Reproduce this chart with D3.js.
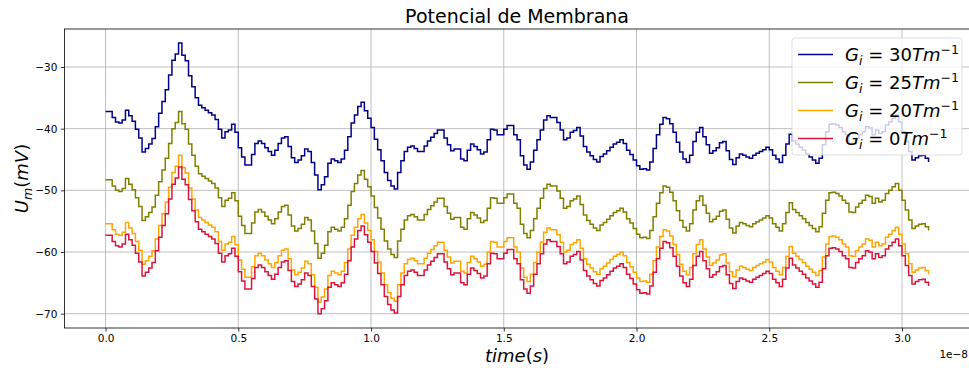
<!DOCTYPE html>
<html>
<head>
<meta charset="utf-8">
<script src="https://cdn.jsdelivr.net/npm/d3@7"></script>
<style>
  body { margin: 0; background: #fff; }
  svg { display: block; }
  text { font-family: "DejaVu Sans", sans-serif; fill: #000; }
</style>
</head>
<body>
<svg id="chart" width="969" height="368"></svg>
<script>
// Sampling interval of the recorded membrane-potential traces (seconds)
const T_STEP = 1.25e-10;

// Membrane potential (mV) for each gradient value
const gi30 = [
-37.2,-37.2,-38.2,-38.9,-39.1,-38.6,-37.0,-37.9,-38.8,-40.1,
-41.5,-43.8,-43.2,-42.5,-41.6,-39.7,-37.5,-35.6,-33.7,-31.3,
-28.9,-27.9,-26.1,-28.1,-29.0,-31.4,-33.2,-35.0,-36.2,-36.6,
-37.0,-37.4,-37.8,-38.5,-40.1,-41.5,-40.5,-40.2,-39.3,-40.6,
-43.1,-44.6,-45.9,-45.9,-44.2,-42.4,-42.0,-42.4,-43.1,-43.7,
-44.3,-43.5,-42.4,-41.5,-41.3,-42.9,-44.7,-45.5,-45.1,-44.4,
-43.3,-43.7,-45.5,-47.5,-49.9,-49.1,-47.8,-45.6,-44.9,-45.2,
-45.5,-44.9,-43.5,-41.3,-39.1,-37.8,-36.4,-35.7,-37.1,-38.3,
-39.8,-41.7,-43.4,-45.2,-47.1,-48.4,-49.3,-49.8,-47.1,-45.2,
-43.7,-43.0,-42.8,-43.2,-43.7,-43.7,-42.8,-42.0,-41.4,-40.8,
-40.2,-40.2,-41.5,-42.6,-43.6,-43.3,-43.3,-44.9,-45.2,-43.5,
-42.5,-42.9,-43.4,-44.1,-43.8,-41.8,-40.1,-40.2,-41.0,-41.0,
-40.1,-39.5,-39.5,-41.0,-41.8,-44.4,-45.9,-46.6,-45.4,-43.5,
-41.8,-40.2,-38.6,-37.9,-38.2,-38.2,-39.0,-40.2,-41.8,-41.5,
-40.6,-40.3,-39.8,-41.2,-42.9,-43.8,-44.4,-45.0,-45.4,-44.5,
-44.1,-43.6,-43.0,-42.5,-42.2,-41.8,-42.4,-43.5,-44.2,-45.1,
-46.0,-46.6,-46.5,-46.7,-45.4,-43.2,-41.0,-39.3,-38.2,-38.4,
-39.2,-40.6,-42.2,-43.8,-44.9,-45.5,-44.3,-42.1,-40.6,-39.8,
-41.3,-42.6,-44.0,-43.6,-43.1,-42.3,-42.1,-43.6,-45.0,-45.8,
-44.7,-44.1,-44.3,-44.6,-44.8,-44.3,-44.0,-43.7,-43.4,-43.0,
-43.4,-44.3,-44.9,-45.5,-44.3,-42.5,-40.9,-42.0,-42.5,-43.0,
-43.5,-44.1,-44.6,-45.1,-45.6,-44.8,-42.6,-40.5,-39.3,-39.2,
-39.4,-39.8,-40.5,-41.0,-42.4,-42.5,-41.6,-41.0,-40.5,-39.7,
-39.9,-41.0,-40.2,-40.8,-40.5,-39.4,-38.9,-38.3,-37.8,-38.9,
-40.5,-42.1,-43.7,-45.1,-44.7,-44.4,-44.3,-44.8,-45.4
];
const gi25 = [
-48.3,-48.3,-49.3,-50.0,-50.2,-49.7,-48.1,-49.0,-49.9,-51.2,
-52.6,-54.9,-54.3,-53.6,-52.7,-50.8,-48.6,-46.7,-44.8,-42.4,
-40.0,-39.0,-37.2,-39.2,-40.1,-42.5,-44.3,-46.1,-47.3,-47.7,
-48.1,-48.5,-48.9,-49.6,-51.2,-52.6,-51.6,-51.3,-50.4,-51.7,
-54.2,-55.7,-57.0,-57.0,-55.3,-53.5,-53.1,-53.5,-54.2,-54.8,
-55.4,-54.6,-53.5,-52.6,-52.4,-54.0,-55.8,-56.6,-56.2,-55.5,
-54.4,-54.8,-56.6,-58.6,-61.0,-60.2,-58.9,-56.7,-56.0,-56.3,
-56.6,-56.0,-54.6,-52.4,-50.2,-48.9,-47.5,-46.8,-48.2,-49.4,
-50.9,-52.8,-54.5,-56.3,-58.2,-59.5,-60.4,-60.9,-58.2,-56.3,
-54.8,-54.1,-53.9,-54.3,-54.8,-54.8,-53.9,-53.1,-52.5,-51.9,
-51.3,-51.3,-52.6,-53.7,-54.7,-54.4,-54.4,-56.0,-56.3,-54.6,
-53.6,-54.0,-54.5,-55.2,-54.9,-52.9,-51.2,-51.3,-52.1,-52.1,
-51.2,-50.6,-50.6,-52.1,-52.9,-55.5,-57.0,-57.7,-56.5,-54.6,
-52.9,-51.3,-49.7,-49.0,-49.3,-49.3,-50.1,-51.3,-52.9,-52.6,
-51.7,-51.4,-50.9,-52.3,-54.0,-54.9,-55.5,-56.1,-56.5,-55.6,
-55.2,-54.7,-54.1,-53.6,-53.3,-52.9,-53.5,-54.6,-55.3,-56.2,
-57.1,-57.7,-57.6,-57.8,-56.5,-54.3,-52.1,-50.4,-49.3,-49.5,
-50.3,-51.7,-53.3,-54.9,-56.0,-56.6,-55.4,-53.2,-51.7,-50.9,
-52.4,-53.7,-55.1,-54.7,-54.2,-53.4,-53.2,-54.7,-56.1,-56.9,
-55.8,-55.2,-55.4,-55.7,-55.9,-55.4,-55.1,-54.8,-54.5,-54.1,
-54.5,-55.4,-56.0,-56.6,-55.4,-53.6,-52.0,-53.1,-53.6,-54.1,
-54.6,-55.2,-55.7,-56.2,-56.7,-55.9,-53.7,-51.6,-50.4,-50.3,
-50.5,-50.9,-51.6,-52.1,-53.5,-53.6,-52.7,-52.1,-51.6,-50.8,
-51.0,-52.1,-51.3,-51.9,-51.6,-50.5,-50.0,-49.4,-48.9,-50.0,
-51.6,-53.2,-54.8,-56.2,-55.8,-55.5,-55.4,-55.9,-56.5
];
const gi20 = [
-55.4,-55.4,-56.4,-57.1,-57.3,-56.8,-55.2,-56.1,-57.0,-58.3,
-59.7,-62.0,-61.4,-60.7,-59.8,-57.9,-55.7,-53.8,-51.9,-49.5,
-47.1,-46.1,-44.3,-46.3,-47.2,-49.6,-51.4,-53.2,-54.4,-54.8,
-55.2,-55.6,-56.0,-56.7,-58.3,-59.7,-58.7,-58.4,-57.5,-58.8,
-61.3,-62.8,-64.1,-64.1,-62.4,-60.6,-60.2,-60.6,-61.3,-61.9,
-62.5,-61.7,-60.6,-59.7,-59.5,-61.1,-62.9,-63.7,-63.3,-62.6,
-61.5,-61.9,-63.7,-65.7,-68.1,-67.3,-66.0,-63.8,-63.1,-63.4,
-63.7,-63.1,-61.7,-59.5,-57.3,-56.0,-54.6,-53.9,-55.3,-56.5,
-58.0,-59.9,-61.6,-63.4,-65.3,-66.6,-67.5,-68.0,-65.3,-63.4,
-61.9,-61.2,-61.0,-61.4,-61.9,-61.9,-61.0,-60.2,-59.6,-59.0,
-58.4,-58.4,-59.7,-60.8,-61.8,-61.5,-61.5,-63.1,-63.4,-61.7,
-60.7,-61.1,-61.6,-62.3,-62.0,-60.0,-58.3,-58.4,-59.2,-59.2,
-58.3,-57.7,-57.7,-59.2,-60.0,-62.6,-64.1,-64.8,-63.6,-61.7,
-60.0,-58.4,-56.8,-56.1,-56.4,-56.4,-57.2,-58.4,-60.0,-59.7,
-58.8,-58.5,-58.0,-59.4,-61.1,-62.0,-62.6,-63.2,-63.6,-62.7,
-62.3,-61.8,-61.2,-60.7,-60.4,-60.0,-60.6,-61.7,-62.4,-63.3,
-64.2,-64.8,-64.7,-64.9,-63.6,-61.4,-59.2,-57.5,-56.4,-56.6,
-57.4,-58.8,-60.4,-62.0,-63.1,-63.7,-62.5,-60.3,-58.8,-58.0,
-59.5,-60.8,-62.2,-61.8,-61.3,-60.5,-60.3,-61.8,-63.2,-64.0,
-62.9,-62.3,-62.5,-62.8,-63.0,-62.5,-62.2,-61.9,-61.6,-61.2,
-61.6,-62.5,-63.1,-63.7,-62.5,-60.7,-59.1,-60.2,-60.7,-61.2,
-61.7,-62.3,-62.8,-63.3,-63.8,-63.0,-60.8,-58.7,-57.5,-57.4,
-57.6,-58.0,-58.7,-59.2,-60.6,-60.7,-59.8,-59.2,-58.7,-57.9,
-58.1,-59.2,-58.4,-59.0,-58.7,-57.6,-57.1,-56.5,-56.0,-57.1,
-58.7,-60.3,-61.9,-63.3,-62.9,-62.6,-62.5,-63.0,-63.6
];
const gi0 = [
-57.3,-57.3,-58.3,-59.0,-59.2,-58.7,-57.1,-58.0,-58.9,-60.2,
-61.6,-63.9,-63.3,-62.6,-61.7,-59.8,-57.6,-55.7,-53.8,-51.4,
-49.0,-48.0,-46.2,-48.2,-49.1,-51.5,-53.3,-55.1,-56.3,-56.7,
-57.1,-57.5,-57.9,-58.6,-60.2,-61.6,-60.6,-60.3,-59.4,-60.7,
-63.2,-64.7,-66.0,-66.0,-64.3,-62.5,-62.1,-62.5,-63.2,-63.8,
-64.4,-63.6,-62.5,-61.6,-61.4,-63.0,-64.8,-65.6,-65.2,-64.5,
-63.4,-63.8,-65.6,-67.6,-70.0,-69.2,-67.9,-65.7,-65.0,-65.3,
-65.6,-65.0,-63.6,-61.4,-59.2,-57.9,-56.5,-55.8,-57.2,-58.4,
-59.9,-61.8,-63.5,-65.3,-67.2,-68.5,-69.4,-69.9,-67.2,-65.3,
-63.8,-63.1,-62.9,-63.3,-63.8,-63.8,-62.9,-62.1,-61.5,-60.9,
-60.3,-60.3,-61.6,-62.7,-63.7,-63.4,-63.4,-65.0,-65.3,-63.6,
-62.6,-63.0,-63.5,-64.2,-63.9,-61.9,-60.2,-60.3,-61.1,-61.1,
-60.2,-59.6,-59.6,-61.1,-61.9,-64.5,-66.0,-66.7,-65.5,-63.6,
-61.9,-60.3,-58.7,-58.0,-58.3,-58.3,-59.1,-60.3,-61.9,-61.6,
-60.7,-60.4,-59.9,-61.3,-63.0,-63.9,-64.5,-65.1,-65.5,-64.6,
-64.2,-63.7,-63.1,-62.6,-62.3,-61.9,-62.5,-63.6,-64.3,-65.2,
-66.1,-66.7,-66.6,-66.8,-65.5,-63.3,-61.1,-59.4,-58.3,-58.5,
-59.3,-60.7,-62.3,-63.9,-65.0,-65.6,-64.4,-62.2,-60.7,-59.9,
-61.4,-62.7,-64.1,-63.7,-63.2,-62.4,-62.2,-63.7,-65.1,-65.9,
-64.8,-64.2,-64.4,-64.7,-64.9,-64.4,-64.1,-63.8,-63.5,-63.1,
-63.5,-64.4,-65.0,-65.6,-64.4,-62.6,-61.0,-62.1,-62.6,-63.1,
-63.6,-64.2,-64.7,-65.2,-65.7,-64.9,-62.7,-60.6,-59.4,-59.3,
-59.5,-59.9,-60.6,-61.1,-62.5,-62.6,-61.7,-61.1,-60.6,-59.8,
-60.0,-61.1,-60.3,-60.9,-60.6,-59.5,-59.0,-58.4,-57.9,-59.0,
-60.6,-62.2,-63.8,-65.2,-64.8,-64.5,-64.4,-64.9,-65.5
];

const seriesValues = [gi30, gi25, gi20, gi0];
const seriesLabels = ["30", "25", "20", "0"];
const seriesColors = ["#00008b", "#808000", "#ffa500", "#dc143c"];

const xTicks = [0, 0.5e-8, 1.0e-8, 1.5e-8, 2.0e-8, 2.5e-8, 3.0e-8];
const xTickLabels = ["0.0", "0.5", "1.0", "1.5", "2.0", "2.5", "3.0"];
const yTicks = [-30, -40, -50, -60, -70];
const yTickLabels = ["\u221230", "\u221240", "\u221250", "\u221260", "\u221270"];

const svg = d3.select("#chart");
const plot = { left: 64.4, right: 969.7, top: 29, bottom: 328 };

const x = d3.scaleLinear().domain([-0.155e-8, 3.255e-8]).range([plot.left, plot.right]);
const y = d3.scaleLinear().domain([-72.32, -23.84]).range([plot.bottom, plot.top]);

svg.append("defs").append("clipPath").attr("id", "plotClip")
  .append("rect")
  .attr("x", plot.left).attr("y", plot.top)
  .attr("width", plot.right - plot.left).attr("height", plot.bottom - plot.top);

// grid
const grid = svg.append("g").attr("class", "grid");
grid.selectAll("line.gx").data(xTicks).join("line")
  .attr("x1", d => x(d)).attr("x2", d => x(d))
  .attr("y1", plot.top).attr("y2", plot.bottom)
  .attr("stroke", "#b0b0b0").attr("stroke-width", 0.8);
grid.selectAll("line.gy").data(yTicks).join("line")
  .attr("x1", plot.left).attr("x2", plot.right)
  .attr("y1", d => y(d)).attr("y2", d => y(d))
  .attr("stroke", "#b0b0b0").attr("stroke-width", 0.8);

// traces
const line = d3.line()
  .x((d, i) => x(i * T_STEP))
  .y(d => y(d))
  .curve(d3.curveStepAfter);

svg.append("g").attr("clip-path", "url(#plotClip)")
  .selectAll("path").data(seriesValues).join("path")
  .attr("d", d => line(d))
  .attr("fill", "none")
  .attr("stroke", (d, i) => seriesColors[i])
  .attr("stroke-width", 1.5)
  .attr("stroke-linejoin", "miter");

// axes
const xAxis = d3.axisBottom(x).tickValues(xTicks)
  .tickFormat((d, i) => xTickLabels[i]).tickSize(3.5).tickPadding(3.5);
const gx = svg.append("g").attr("transform", `translate(0,${plot.bottom})`).call(xAxis);
const yAxis = d3.axisLeft(y).tickValues(yTicks)
  .tickFormat((d, i) => yTickLabels[i]).tickSize(3.5).tickPadding(3.5);
const gy = svg.append("g").attr("transform", `translate(${plot.left},0)`).call(yAxis);
[gx, gy].forEach(g => {
  g.select(".domain").remove();
  g.selectAll(".tick line").attr("stroke", "#000").attr("stroke-width", 0.8);
  g.selectAll(".tick text").attr("fill", "#000")
    .style("font-family", "'DejaVu Sans', sans-serif").style("font-size", "10.5px");
});

// spines
svg.append("rect")
  .attr("x", plot.left).attr("y", plot.top)
  .attr("width", plot.right - plot.left).attr("height", plot.bottom - plot.top)
  .attr("fill", "none").attr("stroke", "#000").attr("stroke-width", 0.8);

// offset label of the time axis
svg.append("text")
  .attr("x", 968).attr("y", 358).attr("text-anchor", "end")
  .style("font-size", "10.5px").text("1e\u22128");

// title
svg.append("text")
  .attr("x", (plot.left + plot.right) / 2).attr("y", 23)
  .attr("text-anchor", "middle").style("font-size", "19px")
  .text("Potencial de Membrana");

// x label: time(s)
const xl = svg.append("text")
  .attr("x", (plot.left + plot.right) / 2).attr("y", 362)
  .attr("text-anchor", "middle").style("font-size", "18px");
xl.append("tspan").attr("font-style", "italic").text("time");
xl.append("tspan").text("(");
xl.append("tspan").attr("font-style", "italic").text("s");
xl.append("tspan").text(")");

// y label: U_m(mV)
const yl = svg.append("text")
  .attr("transform", `translate(28,${(plot.top + plot.bottom) / 2}) rotate(-90)`)
  .attr("text-anchor", "middle").style("font-size", "18px");
yl.append("tspan").attr("font-style", "italic").text("U");
yl.append("tspan").attr("font-style", "italic").attr("font-size", "12.6px").attr("dy", 4).text("m");
yl.append("tspan").attr("dy", -4).text("(");
yl.append("tspan").attr("font-style", "italic").text("mV");
yl.append("tspan").text(")");

// legend
const legend = svg.append("g");
legend.append("rect")
  .attr("x", 792).attr("y", 38).attr("width", 170).attr("height", 117)
  .attr("rx", 3).attr("fill", "#fff").attr("fill-opacity", 0.8)
  .attr("stroke", "#cccccc").attr("stroke-opacity", 0.8).attr("stroke-width", 0.8);
seriesLabels.forEach((lab, i) => {
  const ry = 54.5 + i * 28;
  legend.append("line")
    .attr("x1", 798).attr("x2", 833).attr("y1", ry).attr("y2", ry)
    .attr("stroke", seriesColors[i]).attr("stroke-width", 1.5);
  const t = legend.append("text").attr("x", 845).attr("y", ry + 6.5).style("font-size", "18px");
  t.append("tspan").attr("font-style", "italic").text("G");
  t.append("tspan").attr("font-style", "italic").attr("font-size", "12.6px").attr("dy", 4).text("i");
  t.append("tspan").attr("dy", -4).text(` = ${lab}`);
  t.append("tspan").attr("font-style", "italic").text("Tm");
  t.append("tspan").attr("font-size", "12.6px").attr("dy", -7).text("\u22121");
});
</script>
</body>
</html>
